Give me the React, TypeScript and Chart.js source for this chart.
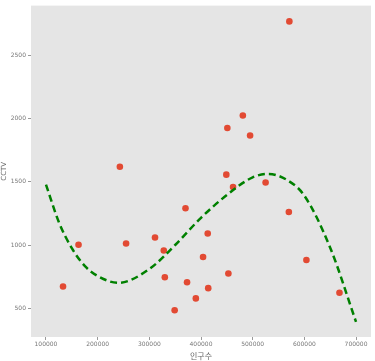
import React, { useEffect, useRef } from "react";
import { Chart, registerables } from "chart.js";

Chart.register(...registerables);

const population = [133000, 163000, 255000, 243000, 311000, 328000, 330000, 349000, 370000, 373000, 390000, 404000, 413000, 414000, 449000, 451000, 453000, 462000, 481000, 495000, 525000, 570000, 571000, 604000, 668000];
const cctv = [672, 1002, 1012, 1619, 1059, 957, 745, 484, 1290, 706, 578, 905, 1091, 659, 1556, 1925, 775, 1459, 2024, 1865, 1494, 1261, 2767, 882, 623];

const fitX = [100000, 125000, 150000, 175000, 200000, 240000, 300000, 350000, 400000, 450000, 500000, 530000, 570000, 600000, 650000, 700000];
const fitY = [1478, 1180, 975, 835, 755, 701, 810, 1000, 1215, 1395, 1535, 1562, 1505, 1390, 979, 393];

const xTicks = [100000, 200000, 300000, 400000, 500000, 600000, 700000];
const yTicks = [500, 1000, 1500, 2000, 2500];

export default function App() {
  const ref = useRef<HTMLCanvasElement>(null);
  useEffect(() => {
    if (!ref.current) return;
    const tickFont = { family: "'DejaVu Sans'", size: 6 };
    const chart = new Chart(ref.current, {
      type: "scatter",
      data: {
        datasets: [
          {
            data: population.map((x, i) => ({ x, y: cctv[i] })),
            backgroundColor: "#E24A33",
            borderColor: "#E24A33",
            pointRadius: 3.3,
            borderWidth: 0,
            order: 1,
          },
          {
            data: fitX.map((x, i) => ({ x, y: fitY[i] })),
            showLine: true,
            borderColor: "#008000",
            borderWidth: 2.5,
            borderDash: [7, 4],
            pointRadius: 0,
            cubicInterpolationMode: "monotone",
            fill: false,
            order: 0,
          } as any,
        ],
      },
      options: {
        animation: false,
        responsive: false,
        layout: { padding: { top: 4, right: 3, left: 0, bottom: 0 } },
        plugins: { legend: { display: false }, tooltip: { enabled: false } },
        scales: {
          x: {
            type: "linear",
            min: 71000,
            max: 729000,
            afterBuildTicks: (s: any) => { s.ticks = xTicks.map((v) => ({ value: v })); },
            afterFit: (s: any) => { s.height = 24; },
            ticks: { color: "#777", font: tickFont, padding: 1, maxRotation: 0, callback: (v: any) => String(v) },
            grid: { color: "transparent", tickColor: "#999", tickLength: 3, drawOnChartArea: false },
            border: { display: false },
            title: { display: true, text: "인구수", color: "#666", font: { family: "'Noto Sans CJK KR'", size: 8 }, padding: { top: 0, bottom: 0 } },
          },
          y: {
            type: "linear",
            min: 273,
            max: 2892,
            afterBuildTicks: (s: any) => { s.ticks = yTicks.map((v) => ({ value: v })); },
            afterFit: (s: any) => { s.width = 31; },
            ticks: { color: "#777", font: tickFont, padding: 2, callback: (v: any) => String(v) },
            grid: { color: "transparent", tickColor: "#999", tickLength: 3, drawOnChartArea: false },
            border: { display: false },
            title: { display: true, text: "CCTV", color: "#666", font: { family: "'DejaVu Sans'", size: 7 }, padding: { top: 0, bottom: 0 } },
          },
        },
      },
      plugins: [
        {
          id: "bg",
          beforeDraw: (c: any) => {
            const { ctx, chartArea: a } = c;
            ctx.save();
            ctx.fillStyle = "#E5E5E5";
            ctx.fillRect(a.left, a.top, a.right - a.left, a.bottom - a.top);
            ctx.restore();
          },
        },
      ],
    });
    return () => chart.destroy();
  }, []);
  return (
    <div style={{ position: "absolute", left: 0, top: 0, width: 375, height: 361, background: "#fff" }}>
      <canvas ref={ref} width={375} height={361} style={{ width: 375, height: 361 }} />
    </div>
  );
}
